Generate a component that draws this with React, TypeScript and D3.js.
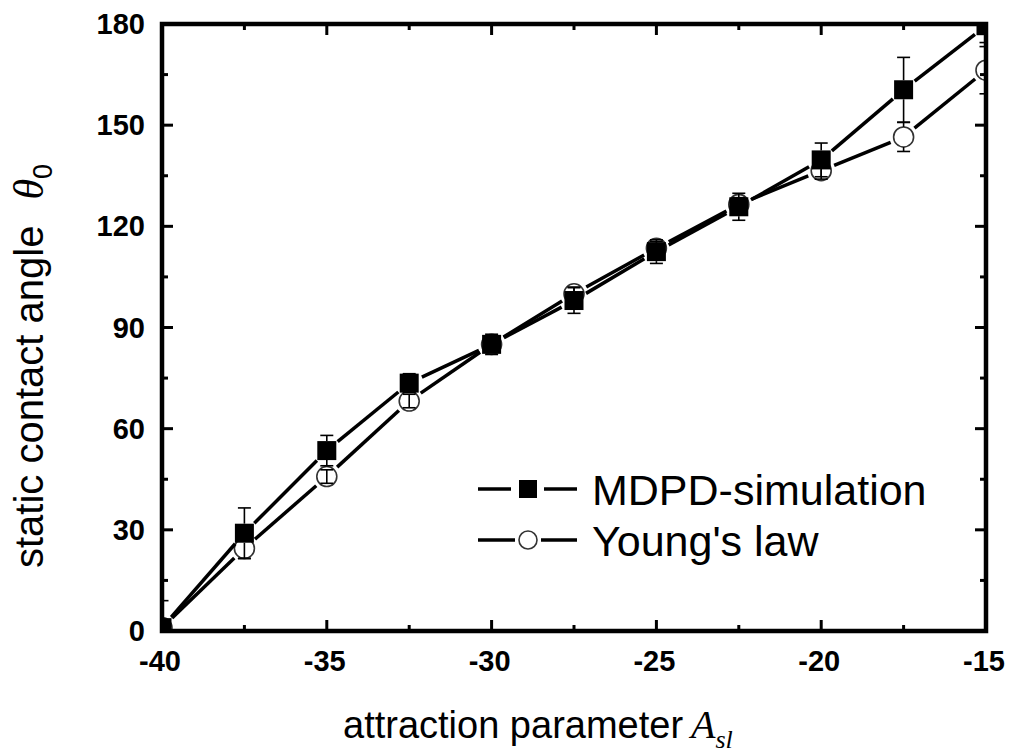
import React from "react";
import * as d3 from "d3";

const xValues = [-40, -37.5, -35, -32.5, -30, -27.5, -25, -22.5, -20, -17.5, -15];
const mdpdValues = [1, 29, 53.5, 73.5, 85, 98, 112.5, 125.8, 139.7, 160.5, 179.5];
const mdpdErrors = [8, 7.5, 4.5, 2.8, 3, 3.8, 3.5, 4, 5, 9.6, 5];
const youngValues = [1, 24.5, 45.8, 68.2, 85, 100, 113.5, 126.5, 136.5, 146.5, 166.3];
const youngErrors = [2, 3, 2, 2, 2, 2, 2, 2, 2.5, 4.3, 7];

const xMajorTicks = [-40, -35, -30, -25, -20, -15];
const xMinorTicks = [-37.5, -32.5, -27.5, -22.5, -17.5];
const yMajorTicks = [0, 30, 60, 90, 120, 150, 180];
const yMinorTicks = [15, 45, 75, 105, 135, 165];

const legendLabels = ["MDPD-simulation", "Young's law"];

const W = 1012;
const H = 755;
const L = 162, R = 986, T = 24, B = 631;

const FONT = "Arial, 'Liberation Sans', Helvetica, sans-serif";
const SERIF = "'Liberation Serif', 'Times New Roman', serif";

export default function App() {
  const x = d3.scaleLinear().domain([-40, -15]).range([L, R]);
  const y = d3.scaleLinear().domain([0, 180]).range([B, T]);

  const GAP = 14;
  const segs = (vals: number[]) => {
    const out: { x1: number; y1: number; x2: number; y2: number }[] = [];
    for (let i = 0; i < vals.length - 1; i++) {
      const ax = x(xValues[i]), ay = y(vals[i]);
      const bx = x(xValues[i + 1]), by = y(vals[i + 1]);
      const d = Math.hypot(bx - ax, by - ay);
      const ux = (bx - ax) / d, uy = (by - ay) / d;
      out.push({ x1: ax + ux * GAP, y1: ay + uy * GAP, x2: bx - ux * GAP, y2: by - uy * GAP });
    }
    return out;
  };

  const errBars = (vals: number[], errs: number[], r: number, key: string) =>
    vals.map((v, i) => {
      const cx = x(xValues[i]);
      const cy = y(v);
      const top = y(v + errs[i]);
      const bot = y(v - errs[i]);
      const e = cy - top;
      const lines: JSX.Element[] = [];
      if (e > r) {
        lines.push(<line key="a" x1={cx} x2={cx} y1={cy - r} y2={top} />);
        lines.push(<line key="b" x1={cx} x2={cx} y1={cy + r} y2={bot} />);
      } else {
        lines.push(<line key="a" x1={cx} x2={cx} y1={top} y2={bot} />);
      }
      lines.push(<line key="c" x1={cx - 6.5} x2={cx + 6.5} y1={top} y2={top} />);
      lines.push(<line key="d" x1={cx - 6.5} x2={cx + 6.5} y1={bot} y2={bot} />);
      return (
        <g key={key + i} stroke="#000" strokeWidth={1.6}>
          {lines}
        </g>
      );
    });

  const SQ = 19;
  const CR = 10;

  return (
    <svg width={W} height={H} style={{ display: "block", position: "absolute", left: 0, top: 0 }}>
      <rect width={W} height={H} fill="#fff" />
      <defs>
        <clipPath id="plot">
          <rect x={L} y={T} width={R - L} height={B - T} />
        </clipPath>
      </defs>

      <g clipPath="url(#plot)">
        {segs(youngValues).map((s, i) => (
          <line key={"ys" + i} {...s} stroke="#000" strokeWidth={3.5} />
        ))}
        {youngValues.map((v, i) => (
          <circle key={"yc" + i} cx={x(xValues[i])} cy={y(v)} r={CR} fill="#fff" stroke="#333" strokeWidth={1.6} />
        ))}
        {errBars(youngValues, youngErrors, CR, "ye")}
        {segs(mdpdValues).map((s, i) => (
          <line key={"ms" + i} {...s} stroke="#000" strokeWidth={3.5} />
        ))}
        {mdpdValues.map((v, i) => (
          <rect key={"mr" + i} x={x(xValues[i]) - SQ / 2} y={y(v) - SQ / 2} width={SQ} height={SQ} fill="#000" />
        ))}
        {errBars(mdpdValues, mdpdErrors, SQ / 2, "me")}
      </g>

      <rect x={L} y={T} width={R - L} height={B - T} fill="none" stroke="#000" strokeWidth={4.5} />

      <g stroke="#000" strokeWidth={3}>
        {xMajorTicks.map((t) => (
          <g key={"xM" + t}>
            <line x1={x(t)} x2={x(t)} y1={B} y2={B - 11} />
            <line x1={x(t)} x2={x(t)} y1={T} y2={T + 11} />
          </g>
        ))}
        {xMinorTicks.map((t) => (
          <g key={"xm" + t}>
            <line x1={x(t)} x2={x(t)} y1={B} y2={B - 6} />
            <line x1={x(t)} x2={x(t)} y1={T} y2={T + 6} />
          </g>
        ))}
        {yMajorTicks.map((t) => (
          <g key={"yM" + t}>
            <line x1={L} x2={L + 11} y1={y(t)} y2={y(t)} />
            <line x1={R} x2={R - 11} y1={y(t)} y2={y(t)} />
          </g>
        ))}
        {yMinorTicks.map((t) => (
          <g key={"ym" + t}>
            <line x1={L} x2={L + 6} y1={y(t)} y2={y(t)} />
            <line x1={R} x2={R - 6} y1={y(t)} y2={y(t)} />
          </g>
        ))}
      </g>

      <g fontFamily={FONT} fontWeight="bold" fontSize={29} fill="#000">
        {xMajorTicks.map((t) => (
          <text key={"xl" + t} x={x(t) - 2} y={671} textAnchor="middle">
            {t}
          </text>
        ))}
        {yMajorTicks.map((t) => (
          <text key={"yl" + t} x={145} y={y(t) + 10} textAnchor="end">
            {t}
          </text>
        ))}
      </g>

      <text x={343} y={738} fontFamily={FONT} fontSize={38} fill="#000">
        attraction parameter
        <tspan dx={8} fontFamily={SERIF} fontStyle="italic" fontSize={40}>
          A
        </tspan>
        <tspan dy={10} fontFamily={SERIF} fontStyle="italic" fontSize={26}>
          sl
        </tspan>
      </text>
      <text transform="translate(43,568) rotate(-90)" fontFamily={FONT} fontSize={40} fill="#000">
        static contact angle
        <tspan dx={26} fontFamily={SERIF} fontStyle="italic" fontSize={42}>
          θ
        </tspan>
        <tspan dy={9} fontSize={27}>
          0
        </tspan>
      </text>

      <g>
        <line x1={478} x2={511} y1={489} y2={489} stroke="#000" strokeWidth={3.5} />
        <line x1={544} x2={577} y1={489} y2={489} stroke="#000" strokeWidth={3.5} />
        <rect x={528 - 9} y={489 - 9} width={18} height={18} fill="#000" />
        <text x={592} y={505} fontFamily={FONT} fontSize={43} fill="#000">
          {legendLabels[0]}
        </text>
        <line x1={478} x2={515} y1={540} y2={540} stroke="#000" strokeWidth={3.5} />
        <line x1={541} x2={577} y1={540} y2={540} stroke="#000" strokeWidth={3.5} />
        <circle cx={528} cy={540} r={9} fill="#fff" stroke="#333" strokeWidth={1.6} />
        <text x={592} y={556} fontFamily={FONT} fontSize={43} fill="#000">
          {legendLabels[1]}
        </text>
      </g>
    </svg>
  );
}
